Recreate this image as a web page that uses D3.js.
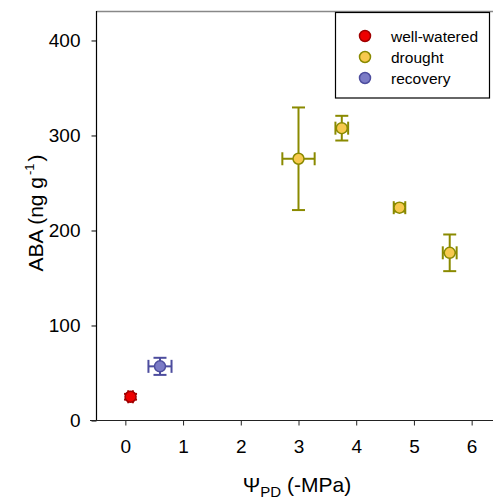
<!DOCTYPE html>
<html>
<head>
<meta charset="utf-8">
<script src="https://cdn.jsdelivr.net/npm/d3@7"></script>
<style>
  html, body { margin: 0; padding: 0; background: #fff; }
  svg { display: block; font-family: "Liberation Sans", Arial, sans-serif; }
</style>
</head>
<body>
<svg id="chart" width="493" height="501"></svg>
<script>
// ---- data ----
const groups = ["well-watered", "drought", "recovery"];
const pointGroup = ["well-watered", "drought", "drought", "drought", "drought", "recovery"];
const psiPD = [0.09, 3.0, 3.75, 4.75, 5.62, 0.6];
const psiErr = [0.04, 0.28, 0.11, 0.1, 0.12, 0.2];
const aba = [25, 275.5, 307.7, 224, 176.5, 57];
const abaErr = [3, 54, 13, 4, 19.3, 9];
const xTicks = [0, 1, 2, 3, 4, 5, 6];
const yTicks = [0, 100, 200, 300, 400];

const fillColor = { "well-watered": "#ee0000", "drought": "#f7c94e", "recovery": "#7b7bc6" };
const strokeColor = { "well-watered": "#a00000", "drought": "#8a8a00", "recovery": "#4d4d9e" };

const svg = d3.select("#chart");
const x = d3.scaleLinear().domain([-0.5, 6.37]).range([96.5, 493]);
const y = d3.scaleLinear().domain([0, 430.5]).range([420.5, 11.5]);

// top border
svg.append("line").attr("x1", 96.5).attr("x2", 493).attr("y1", 11.5).attr("y2", 11.5)
  .attr("stroke", "#888").attr("stroke-width", 1.5);

// y axis
const yAxis = svg.append("g").attr("transform", "translate(96.5,0)")
  .call(d3.axisLeft(y).tickValues(yTicks).tickFormat(d3.format("d")).tickSize(5).tickPadding(11).tickSizeOuter(0));
yAxis.select(".domain").remove();
svg.append("line").attr("x1", 96.5).attr("x2", 96.5).attr("y1", 11).attr("y2", 421)
  .attr("stroke", "#000").attr("stroke-width", 1.2);
yAxis.selectAll("text").attr("font-size", 19).attr("fill", "#000")
  .attr("font-family", "Liberation Sans, Arial, sans-serif");
yAxis.selectAll(".tick line").attr("stroke", "#000");

// x axis
const xAxis = svg.append("g").attr("transform", "translate(0,420.5)")
  .call(d3.axisBottom(x).tickValues(xTicks).tickFormat(d3.format("d")).tickSize(5).tickPadding(14).tickSizeOuter(0));
xAxis.select(".domain").remove();
svg.append("line").attr("x1", 90).attr("x2", 493).attr("y1", 420.5).attr("y2", 420.5)
  .attr("stroke", "#222").attr("stroke-width", 1.2);
xAxis.selectAll("text").attr("font-size", 19).attr("fill", "#000")
  .attr("font-family", "Liberation Sans, Arial, sans-serif");
xAxis.selectAll(".tick line").attr("stroke", "#222");

// axis titles
const yTitle = svg.append("text")
  .attr("transform", "translate(43,213) rotate(-90)")
  .attr("text-anchor", "middle").attr("font-size", 21).attr("fill", "#000");
yTitle.append("tspan").text("ABA (ng g");
yTitle.append("tspan").attr("font-size", 13).attr("dx", 2).attr("dy", -9).text("-1");
yTitle.append("tspan").attr("dx", 2).attr("dy", 9).text(")");

const xTitle = svg.append("text")
  .attr("x", 297).attr("y", 492)
  .attr("text-anchor", "middle").attr("font-size", 21).attr("fill", "#000");
xTitle.append("tspan").text("\u03A8");
xTitle.append("tspan").attr("font-size", 15).attr("dy", 5).text("PD");
xTitle.append("tspan").attr("dy", -5).text(" (-MPa)");

// data
const pts = psiPD.map((v, i) => ({ x: v, xe: psiErr[i], y: aba[i], ye: abaErr[i], g: pointGroup[i] }));
const cap = 6.5;
const eb = svg.append("g");
pts.forEach(d => {
  const c = strokeColor[d.g];
  const g = eb.append("g").attr("stroke", c).attr("stroke-width", 2).attr("fill", "none");
  const cx = x(d.x), cy = y(d.y);
  g.append("line").attr("x1", cx).attr("x2", cx).attr("y1", y(d.y - d.ye)).attr("y2", y(d.y + d.ye));
  g.append("line").attr("x1", cx - cap).attr("x2", cx + cap).attr("y1", y(d.y - d.ye)).attr("y2", y(d.y - d.ye));
  g.append("line").attr("x1", cx - cap).attr("x2", cx + cap).attr("y1", y(d.y + d.ye)).attr("y2", y(d.y + d.ye));
  g.append("line").attr("x1", x(d.x - d.xe)).attr("x2", x(d.x + d.xe)).attr("y1", cy).attr("y2", cy);
  g.append("line").attr("x1", x(d.x - d.xe)).attr("x2", x(d.x - d.xe)).attr("y1", cy - cap).attr("y2", cy + cap);
  g.append("line").attr("x1", x(d.x + d.xe)).attr("x2", x(d.x + d.xe)).attr("y1", cy - cap).attr("y2", cy + cap);
});

svg.append("g").selectAll("circle").data(pts).join("circle")
  .attr("cx", d => x(d.x)).attr("cy", d => y(d.y)).attr("r", 5.5)
  .attr("fill", d => fillColor[d.g]).attr("stroke", d => strokeColor[d.g]).attr("stroke-width", 1.5);

// legend
const lg = svg.append("g");
lg.append("rect").attr("x", 335.5).attr("y", 12.5).attr("width", 154).attr("height", 85.5)
  .attr("fill", "#fff").attr("stroke", "#000").attr("stroke-width", 1.2);
groups.forEach((gname, i) => {
  const cy = 36 + i * 21;
  lg.append("circle").attr("cx", 365).attr("cy", cy).attr("r", 5.5)
    .attr("fill", fillColor[gname]).attr("stroke", strokeColor[gname]).attr("stroke-width", 1.5);
  lg.append("text").attr("x", 391).attr("y", cy + 5.5).attr("font-size", 15.5).attr("fill", "#000").text(gname);
});
</script>
</body>
</html>
